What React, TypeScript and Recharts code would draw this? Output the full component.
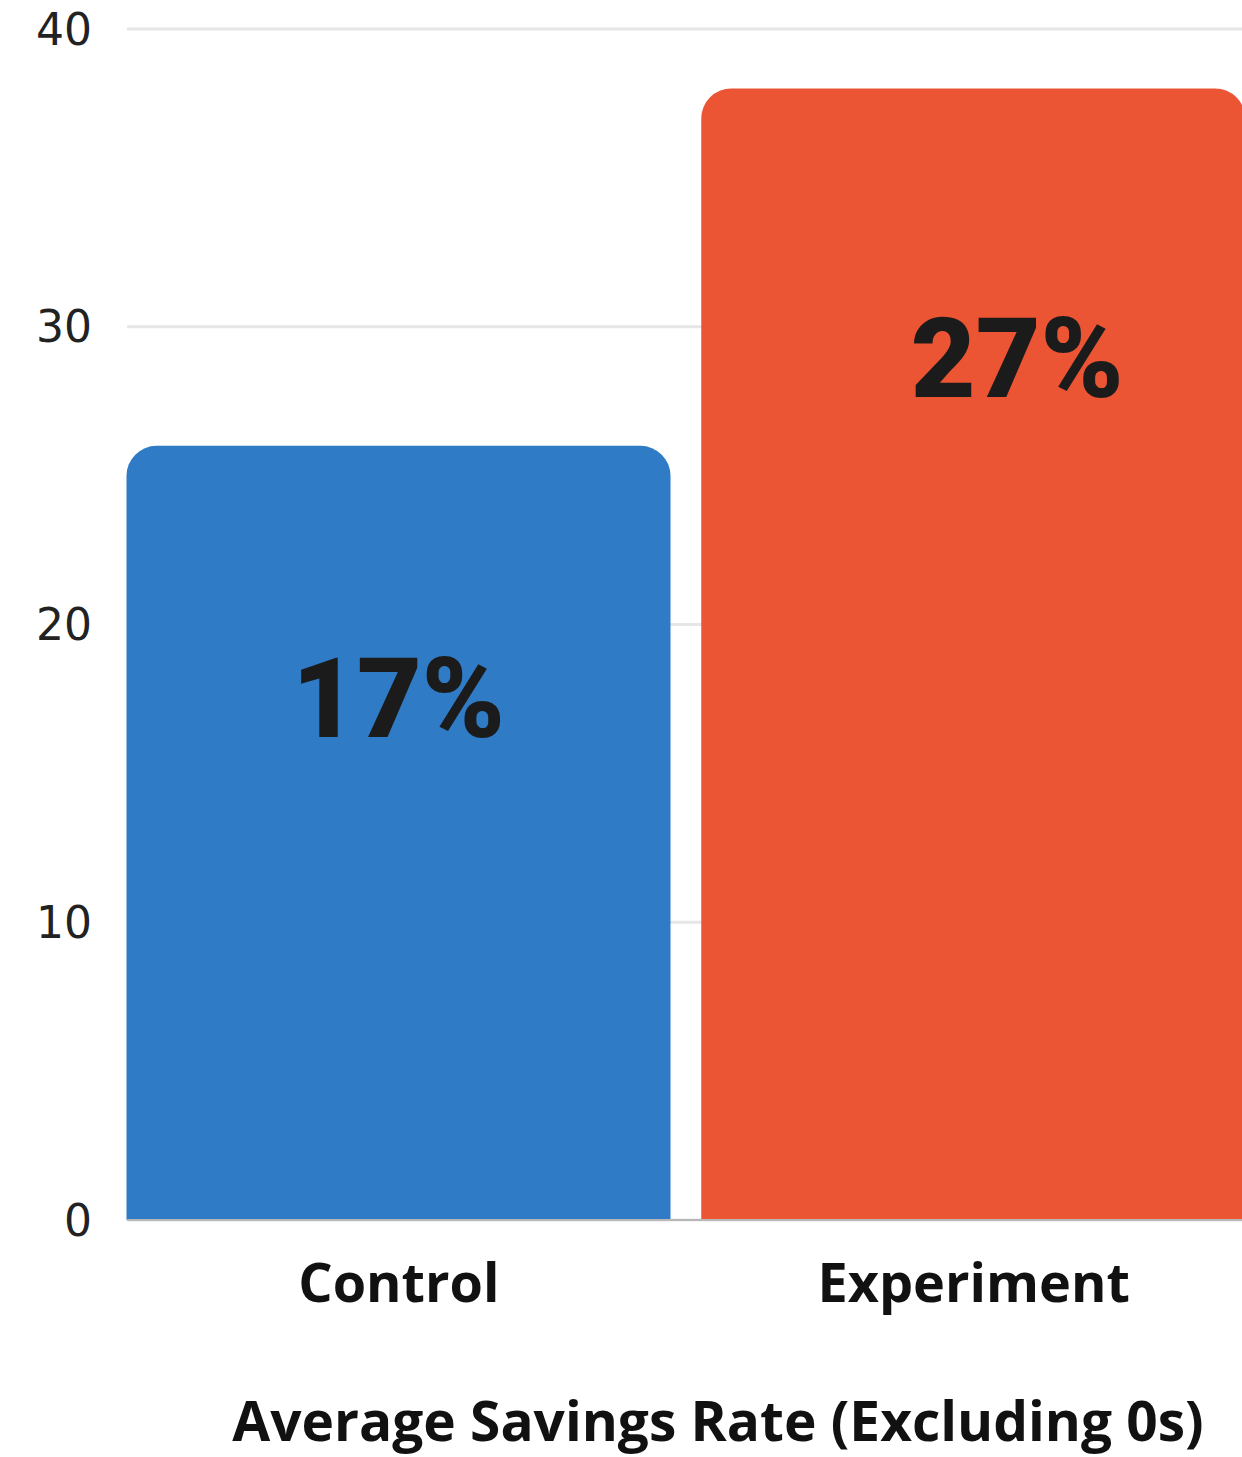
import React from 'react';
import { BarChart, Bar, XAxis, YAxis, CartesianGrid, Cell, LabelList, Label } from 'recharts';

// Savings-rate comparison between the two study groups
const groups = ['Control', 'Experiment'];
const barValues = [26, 38];
const rateLabels = ['17%', '27%'];
const yTicks = [0, 10, 20, 30, 40];
const axisTitle = 'Average Savings Rate (Excluding 0s)';

const barColors = ['#2F7BC6', '#EC5533'];
// Placement of the big percentage callouts, relative to each bar's top centre
const calloutNudge = [
  { dx: 0, dy: 291 },
  { dx: 44, dy: 308 },
];

const data = groups.map((group, i) => ({ group, value: barValues[i], rate: rateLabels[i] }));

const RateCallout = (props: any) => {
  const { x, y, width, value } = props;
  const i = rateLabels.indexOf(value);
  const n = calloutNudge[i] ?? { dx: 0, dy: 0 };
  return (
    <text
      x={Number(x) + Number(width) / 2 + n.dx}
      y={Number(y) + n.dy}
      textAnchor="middle"
      fill="#1b1b1b"
      fontFamily="Roboto"
      fontWeight={900}
      fontSize={112}
    >
      {value}
    </text>
  );
};

export default function App() {
  return (
    <div
      style={{
        position: 'absolute',
        left: 0,
        top: 0,
        width: 1242,
        height: 1457,
        overflow: 'hidden',
        background: '#ffffff',
      }}
    >
      <BarChart
        width={1261}
        height={1457}
        data={data}
        margin={{ top: 29, right: 0, bottom: 0, left: 0 }}
        barSize={544}
      >
        <CartesianGrid vertical={false} stroke="#e6e6e6" strokeWidth={3} />
        <YAxis
          type="number"
          domain={[0, 40]}
          ticks={yTicks}
          width={127}
          axisLine={false}
          tickLine={false}
          tickSize={0}
          tickMargin={35}
          tick={{ fontFamily: 'DejaVu Sans', fontSize: 44, fill: '#222222' }}
        />
        <XAxis
          dataKey="group"
          height={237}
          padding={{ left: -15.5, right: 0 }}
          axisLine={{ stroke: '#b8b8b8', strokeWidth: 2 }}
          tickLine={false}
          tickSize={0}
          tickMargin={44}
          tick={{ fontFamily: 'Open Sans', fontWeight: 700, fontSize: 54, fill: '#111111' }}
        >
          <Label
            value={axisTitle}
            position="insideBottom"
            offset={16}
            dx={24}
            fontFamily="Open Sans"
            fontWeight={700}
            fontSize={55}
            fill="#111111"
          />
        </XAxis>
        <Bar dataKey="value" radius={[30, 30, 0, 0]} isAnimationActive={false}>
          {data.map((d, i) => (
            <Cell key={d.group} fill={barColors[i]} />
          ))}
          <LabelList dataKey="rate" content={RateCallout} />
        </Bar>
      </BarChart>
    </div>
  );
}
